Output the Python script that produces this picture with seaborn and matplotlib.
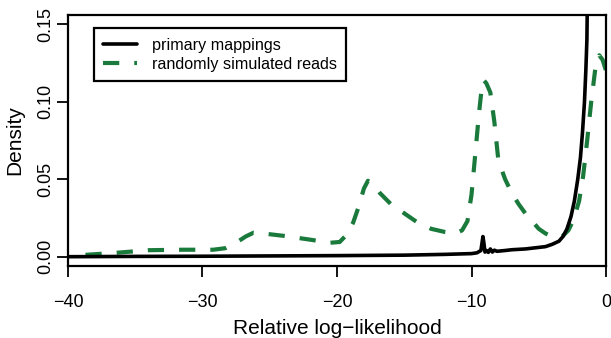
import numpy as np
import pandas as pd
import seaborn as sns
from matplotlib import pyplot as plt

# primary mappings (black solid)
primary_x = [-40, -35, -30, -25, -20, -15, -12, -10, -9.6, -9.3, -9.15, -9.08, -9.0,
             -8.9, -8.75, -8.6, -8.45, -8.3, -8.1, -7.5, -7, -6, -5, -4.5, -4, -3.5,
             -3.2, -2.9, -2.6, -2.35, -2.1, -1.9, -1.75, -1.6, -1.5, -1.42, -1.38]
primary_y = [0.0, 0.0002, 0.0003, 0.0005, 0.0007, 0.001, 0.0015, 0.002, 0.0025, 0.004,
             0.013, 0.009, 0.003, 0.004, 0.0028, 0.005, 0.003, 0.0042, 0.0035, 0.004,
             0.0045, 0.005, 0.006, 0.0065, 0.008, 0.010, 0.013, 0.018, 0.026, 0.036,
             0.050, 0.064, 0.080, 0.100, 0.120, 0.140, 0.170]

# randomly simulated reads (green dashed)
random_x = [-38.7, -36.3, -34, -31.5, -29.2, -28.3, -27.5, -26.8, -26.2, -25, -24, -22,
            -20.5, -19.8, -19.3, -18.8, -18.4, -18, -17.7, -17.3, -16.8, -16, -15, -14,
            -13, -12, -11.2, -10.7, -10.3, -10, -9.7, -9.45, -9.25, -9.1, -8.9, -8.6,
            -8.3, -8, -7.5, -7, -6.5, -6, -5.5, -5, -4.5, -4, -3.6, -3.2, -2.8, -2.4,
            -2, -1.7, -1.4, -1.1, -0.8, -0.5, -0.25, 0]
random_y = [0.0012, 0.0026, 0.0042, 0.0045, 0.0045, 0.0055, 0.009, 0.013, 0.0155, 0.0145,
            0.0135, 0.011, 0.009, 0.0095, 0.014, 0.022, 0.032, 0.044, 0.049, 0.047,
            0.041, 0.034, 0.028, 0.022, 0.018, 0.016, 0.015, 0.017, 0.023, 0.040,
            0.068, 0.092, 0.108, 0.114, 0.112, 0.106, 0.087, 0.062, 0.050, 0.041,
            0.034, 0.028, 0.023, 0.018, 0.015, 0.013, 0.0123, 0.0135, 0.017, 0.024,
            0.036, 0.052, 0.075, 0.100, 0.121, 0.130, 0.127, 0.120]

x_ticks = [-40, -30, -20, -10, 0]
y_ticks = [0.00, 0.05, 0.10, 0.15]
y_tick_labels = ["0.00", "0.05", "0.10", "0.15"]

sns.set_style("ticks")
plt.rcParams['font.family'] = ['Liberation Sans', 'DejaVu Sans']
plt.rcParams['text.color'] = 'black'
plt.rcParams['axes.labelcolor'] = 'black'
plt.rcParams['xtick.color'] = 'black'
plt.rcParams['ytick.color'] = 'black'

fig = plt.figure(figsize=(6.11, 3.38), dpi=100)
ax = fig.add_axes([68/611, 1 - 266/338, (606 - 68)/611, (266 - 15)/338])

primary = pd.DataFrame({"x": primary_x, "y": primary_y})
randoms = pd.DataFrame({"x": random_x, "y": random_y})

sns.lineplot(data=randoms, x="x", y="y", ax=ax, color="#1a7a3c", lw=3.0,
             ls=(0, (3.9, 3.6)), label="randomly simulated reads", zorder=2)
sns.lineplot(data=primary, x="x", y="y", ax=ax, color="black", lw=2.6,
             label="primary mappings", zorder=3)

ax.set_xlim(-40, 0)
ax.set_ylim(-0.006, 0.156)
ax.set_xticks(x_ticks)
ax.set_xticklabels([f"\u2212{-t}" if t < 0 else str(t) for t in x_ticks], fontsize=13)
ax.set_yticks(y_ticks)
ax.set_yticklabels(y_tick_labels, rotation=90, va="center", fontsize=13)
ax.tick_params(length=8, width=1.3, color="black")
ax.tick_params(axis="x", pad=12)
ax.tick_params(axis="y", pad=2)
for s in ax.spines.values():
    s.set_linewidth(1.6)
    s.set_color("black")

ax.set_xlabel("Relative log\u2212likelihood", fontsize=15, labelpad=6)
ax.set_ylabel("Density", fontsize=15, labelpad=9)

handles, labels = ax.get_legend_handles_labels()
leg = ax.legend(handles[::-1], labels[::-1], loc="upper left",
                bbox_to_anchor=(0.048, 0.948), borderaxespad=0, fontsize=11.6,
                fancybox=False, frameon=True, edgecolor="black", framealpha=1,
                handlelength=2.1, handletextpad=0.9, borderpad=0.6, labelspacing=0.25)
leg.get_frame().set_linewidth(1.6)

fig.savefig("out.png", dpi=100)
